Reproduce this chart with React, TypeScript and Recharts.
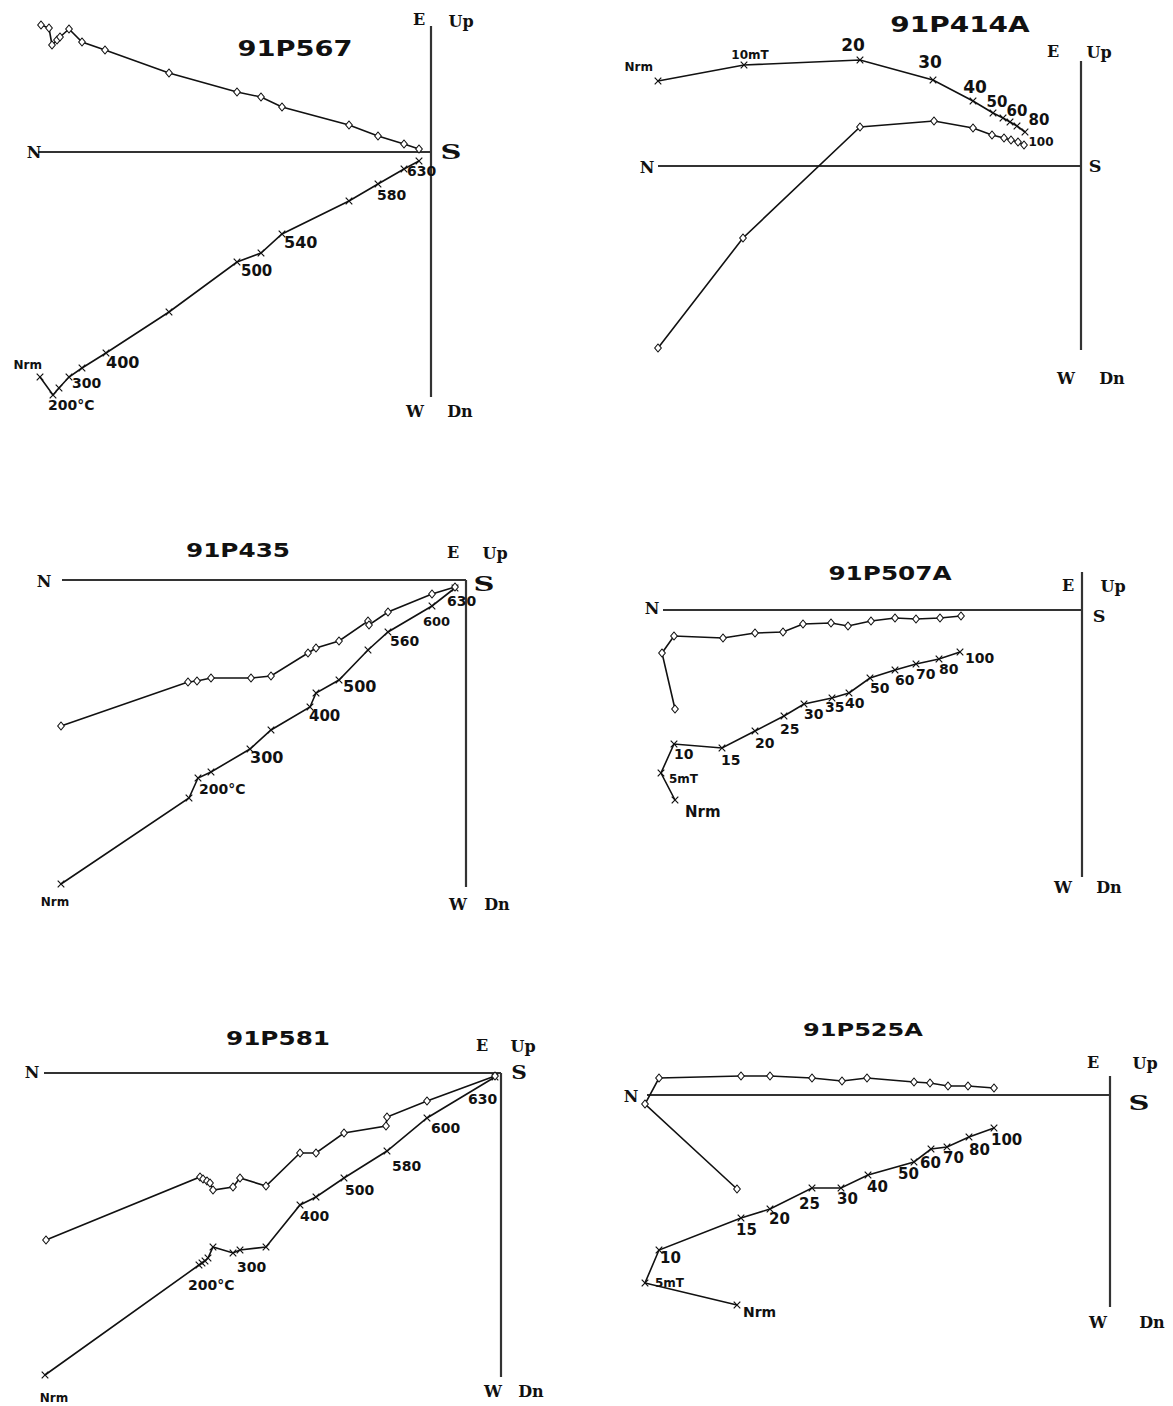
import React from 'react';
import { ScatterChart, Scatter, XAxis, YAxis, ReferenceLine } from 'recharts';

// Orthogonal (Zijderveld) projections, values in plot units from the axis crossing.
// horiz* = horizontal projection (N vs E, diamonds), vert* = vertical projection (N vs Up, crosses)

// 91P567 – thermal
const p567HorizN = [-390, -382, -379, -374, -371, -362, -349, -326, -262, -194, -170, -149, -82, -53, -27, -12];
const p567HorizE = [127, 124, 107, 112, 115, 123, 110, 102, 79, 60, 55, 45, 27, 16, 8, 3];
const p567VertN = [-391, -378, -372, -362, -349, -325, -262, -194, -170, -149, -82, -53, -27, -12];
const p567VertUp = [-225, -243, -236, -225, -216, -201, -160, -110, -101, -82, -49, -32, -17, -9];
const p567Steps = ['Nrm', '200°C', '', '300', '', '400', '', '500', '', '540', '', '580', '', '630'];

// 91P414A – AF
const p414HorizN = [-423, -338, -221, -147, -108, -89, -77, -70, -63, -57];
const p414HorizE = [-182, -72, 39, 45, 38, 31, 28, 26, 24, 21];
const p414VertN = [-423, -337, -221, -148, -108, -88, -78, -71, -64, -56];
const p414VertUp = [85, 101, 106, 86, 65, 53, 48, 44, 40, 34];
const p414Steps = ['Nrm', '10mT', '20', '30', '40', '50', '60', '', '80', '100'];

// 91P435 – thermal
const p435HorizN = [-405, -278, -269, -255, -215, -195, -158, -150, -127, -98, -97, -78, -34, -11];
const p435HorizE = [-146, -102, -101, -98, -98, -96, -73, -68, -61, -41, -45, -32, -14, -7];
const p435VertN = [-405, -277, -268, -255, -216, -195, -156, -150, -127, -98, -78, -34, -11];
const p435VertUp = [-304, -218, -198, -192, -169, -150, -127, -113, -100, -70, -52, -26, -8];
const p435Steps = ['Nrm', '', '200°C', '', '300', '', '400', '', '500', '', '560', '600', '630'];

// 91P507A – AF
const p507HorizN = [-407, -420, -408, -359, -327, -299, -279, -251, -234, -211, -187, -166, -142, -121];
const p507HorizE = [-99, -43, -26, -28, -23, -22, -14, -13, -16, -11, -8, -9, -8, -6];
const p507VertN = [-407, -421, -408, -360, -327, -298, -278, -250, -233, -212, -187, -166, -143, -122];
const p507VertUp = [-190, -163, -134, -138, -121, -106, -94, -88, -83, -68, -60, -54, -49, -42];
const p507Steps = ['Nrm', '5mT', '10', '15', '20', '25', '30', '35', '40', '50', '60', '70', '80', '100'];

// 91P581 – thermal
const p581HorizN = [-455, -301, -298, -294, -291, -288, -268, -261, -235, -201, -185, -157, -115, -114, -74, -6];
const p581HorizE = [-167, -104, -106, -108, -110, -117, -114, -105, -113, -80, -80, -60, -53, -44, -28, -3];
const p581VertN = [-456, -302, -299, -296, -293, -288, -268, -261, -235, -201, -185, -157, -114, -74, -6];
const p581VertUp = [-302, -192, -190, -188, -185, -174, -180, -177, -174, -132, -124, -105, -78, -45, -4];
const p581Steps = ['Nrm', '', '200°C', '', '', '', '300', '', '', '400', '', '500', '580', '600', '630'];

// 91P525A – AF
const p525HorizN = [-373, -465, -451, -369, -340, -298, -268, -243, -196, -180, -162, -142, -116];
const p525HorizE = [-94, -9, 17, 19, 19, 17, 14, 17, 13, 12, 9, 9, 7];
const p525VertN = [-373, -465, -451, -369, -340, -298, -269, -242, -196, -179, -163, -141, -116];
const p525VertUp = [-210, -188, -155, -123, -114, -93, -93, -80, -67, -54, -52, -42, -33];
const p525Steps = ['Nrm', '5mT', '10', '15', '20', '25', '30', '40', '50', '60', '70', '80', '100'];

const INK = '#111';

type Spot = [number, number];
type Nudge = { dx?: number; dy?: number; anchor?: 'start' | 'middle' | 'end'; size?: number };

type PanelDef = {
  title: string;
  titleAt: Spot;
  titleSize: number;
  box: { left: number; top: number; width: number; height: number };
  origin: Spot;
  nsFrom: number;
  upTo: number;
  dnTo: number;
  horizN: number[];
  horizE: number[];
  vertN: number[];
  vertUp: number[];
  steps: string[];
  labelBase: Nudge;
  labelFix: Record<string, Nudge>;
  compass: { N: Spot; S: Spot; E: Spot; Up: Spot; W: Spot; Dn: Spot };
  sSize: number;
  sStretch: number;
};

const panels: PanelDef[] = [
  {
    title: '91P567', titleAt: [295, 49], titleSize: 21,
    box: { left: 0, top: 0, width: 480, height: 430 }, origin: [431, 152],
    nsFrom: -393, upTo: 126, dnTo: -245,
    horizN: p567HorizN, horizE: p567HorizE, vertN: p567VertN, vertUp: p567VertUp, steps: p567Steps,
    labelBase: { dx: 2, dy: 14, anchor: 'start', size: 14 },
    labelFix: {
      Nrm: { dx: 2, dy: -8, anchor: 'end', size: 12 },
      '200°C': { dx: -5, dy: 15 },
      '300': { dx: 3, dy: 11 },
      '400': { dx: 0, dy: 15, size: 16 },
      '500': { dx: 4, dy: 14, size: 15 },
      '540': { dx: 2, dy: 14, size: 16 },
      '580': { dx: -1, dy: 16 },
      '630': { dx: -12, dy: 15 },
    },
    compass: { N: [34, 153], S: [451, 152], E: [419, 20], Up: [461, 22], W: [415, 412], Dn: [460, 412] },
    sSize: 20, sStretch: 1.45,
  },
  {
    title: '91P414A', titleAt: [960, 25], titleSize: 21.5,
    box: { left: 600, top: 0, width: 573, height: 400 }, origin: [1081, 166],
    nsFrom: -423, upTo: 105, dnTo: -184,
    horizN: p414HorizN, horizE: p414HorizE, vertN: p414VertN, vertUp: p414VertUp, steps: p414Steps,
    labelBase: { dx: 0, dy: -9, anchor: 'middle', size: 16 },
    labelFix: {
      Nrm: { dx: -5, dy: -10, anchor: 'end', size: 12 },
      '10mT': { dx: 6, dy: -6, size: 12 },
      '20': { dx: -7, dy: -9, size: 17 },
      '30': { dx: -3, dy: -12, size: 17 },
      '40': { dx: 2, dy: -8, size: 17 },
      '50': { dx: 4, dy: -6, size: 15 },
      '60': { dx: 14, dy: -2, size: 15 },
      '80': { dx: 22, dy: -1, size: 15 },
      '100': { dx: 16, dy: 14, size: 12 },
    },
    compass: { N: [647, 168], S: [1095, 167], E: [1053, 52], Up: [1099, 53], W: [1066, 379], Dn: [1112, 379] },
    sSize: 16, sStretch: 1.1,
  },
  {
    title: '91P435', titleAt: [238, 550], titleSize: 19,
    box: { left: 0, top: 520, width: 530, height: 400 }, origin: [466, 580],
    nsFrom: -404, upTo: 0, dnTo: -307,
    horizN: p435HorizN, horizE: p435HorizE, vertN: p435VertN, vertUp: p435VertUp, steps: p435Steps,
    labelBase: { dx: 2, dy: 14, anchor: 'start', size: 15 },
    labelFix: {
      Nrm: { dx: -6, dy: 22, anchor: 'middle', size: 12 },
      '200°C': { dx: 1, dy: 16, size: 14 },
      '300': { dx: 0, dy: 14, size: 16 },
      '400': { dx: -1, dy: 14 },
      '500': { dx: 4, dy: 12, size: 16 },
      '560': { dx: 2, dy: 14, size: 14 },
      '600': { dx: -9, dy: 20, size: 13 },
      '630': { dx: -8, dy: 18, size: 14 },
    },
    compass: { N: [44, 582], S: [484, 584], E: [453, 553], Up: [495, 554], W: [458, 905], Dn: [497, 905] },
    sSize: 20, sStretch: 1.45,
  },
  {
    title: '91P507A', titleAt: [890, 573], titleSize: 19,
    box: { left: 610, top: 540, width: 563, height: 370 }, origin: [1082, 610],
    nsFrom: -419, upTo: 38, dnTo: -267,
    horizN: p507HorizN, horizE: p507HorizE, vertN: p507VertN, vertUp: p507VertUp, steps: p507Steps,
    labelBase: { dx: 0, dy: 15, anchor: 'start', size: 14 },
    labelFix: {
      Nrm: { dx: 10, dy: 17, size: 15 },
      '5mT': { dx: 8, dy: 10, size: 12 },
      '15': { dx: -1, dy: 17 },
      '20': { dx: 0, dy: 17 },
      '25': { dx: -4, dy: 18 },
      '35': { dx: -7, dy: 14 },
      '40': { dx: -4, dy: 15 },
      '100': { dx: 5, dy: 11 },
    },
    compass: { N: [652, 609], S: [1099, 617], E: [1068, 586], Up: [1113, 587], W: [1063, 888], Dn: [1109, 888] },
    sSize: 16, sStretch: 1.1,
  },
  {
    title: '91P581', titleAt: [278, 1038], titleSize: 19,
    box: { left: 0, top: 1010, width: 560, height: 396 }, origin: [501, 1073],
    nsFrom: -457, upTo: 0, dnTo: -304,
    horizN: p581HorizN, horizE: p581HorizE, vertN: p581VertN, vertUp: p581VertUp, steps: p581Steps,
    labelBase: { dx: 2, dy: 16, anchor: 'start', size: 14 },
    labelFix: {
      Nrm: { dx: 9, dy: 27, anchor: 'middle', size: 12 },
      '200°C': { dx: -14, dy: 27 },
      '300': { dx: 4, dy: 19 },
      '400': { dx: 0, dy: 16 },
      '500': { dx: 1, dy: 17 },
      '580': { dx: 5, dy: 20 },
      '600': { dx: 4, dy: 15 },
      '630': { dx: -27, dy: 27 },
    },
    compass: { N: [32, 1073], S: [519, 1073], E: [482, 1046], Up: [523, 1047], W: [493, 1392], Dn: [531, 1392] },
    sSize: 18, sStretch: 1.2,
  },
  {
    title: '91P525A', titleAt: [863, 1030], titleSize: 18.5,
    box: { left: 600, top: 1010, width: 573, height: 330 }, origin: [1110, 1095],
    nsFrom: -463, upTo: 19, dnTo: -212,
    horizN: p525HorizN, horizE: p525HorizE, vertN: p525VertN, vertUp: p525VertUp, steps: p525Steps,
    labelBase: { dx: -3, dy: 17, anchor: 'start', size: 15 },
    labelFix: {
      Nrm: { dx: 6, dy: 12, size: 14 },
      '5mT': { dx: 10, dy: 4, size: 12 },
      '10': { dx: 1, dy: 13 },
      '15': { dx: -5, dy: 17 },
      '20': { dx: -1, dy: 15 },
      '25': { dx: -13, dy: 21 },
      '30': { dx: -4, dy: 16 },
      '40': { dx: -1, dy: 17 },
      '50': { dx: -16, dy: 17 },
      '60': { dx: -11, dy: 19 },
      '70': { dx: -4, dy: 16 },
      '80': { dx: 0, dy: 18 },
    },
    compass: { N: [631, 1097], S: [1139, 1103], E: [1093, 1063], Up: [1145, 1064], W: [1098, 1323], Dn: [1152, 1323] },
    sSize: 20, sStretch: 1.45,
  },
];

const Diamond = (props: any) => {
  const { cx, cy } = props;
  if (cx == null || cy == null) return <g />;
  return (
    <path
      d={`M${cx},${cy - 4}L${cx + 3.3},${cy}L${cx},${cy + 4}L${cx - 3.3},${cy}Z`}
      fill="#fff"
      stroke={INK}
      strokeWidth={1.1}
    />
  );
};

const crossWithLabel = (def: PanelDef) => (props: any) => {
  const { cx, cy, payload } = props;
  if (cx == null || cy == null) return <g />;
  const text: string = payload?.step || '';
  const n = { dx: 2, dy: 14, anchor: 'start', size: 14, ...def.labelBase, ...(text ? def.labelFix[text] : {}) };
  return (
    <g>
      <path
        d={`M${cx - 3.3},${cy - 3.3}L${cx + 3.3},${cy + 3.3}M${cx - 3.3},${cy + 3.3}L${cx + 3.3},${cy - 3.3}`}
        stroke={INK}
        strokeWidth={1.2}
        fill="none"
      />
      {text ? (
        <text
          x={cx + (n.dx as number)}
          y={cy + (n.dy as number)}
          textAnchor={n.anchor as any}
          fontSize={n.size}
          fontWeight={700}
          fontFamily="DejaVu Sans, sans-serif"
          fill={INK}
        >
          {text}
        </text>
      ) : null}
    </g>
  );
};

const Mark = ({ at, text, size, stretch = 1, font }: { at: Spot; text: string; size: number; stretch?: number; font: string }) => (
  <div
    style={{
      position: 'absolute',
      left: at[0],
      top: at[1],
      transform: `translate(-50%, -50%) scaleX(${stretch})`,
      fontFamily: font,
      fontWeight: 700,
      fontSize: size,
      lineHeight: 1,
      whiteSpace: 'nowrap',
      color: INK,
    }}
  >
    {text}
  </div>
);

const SERIF = '"DejaVu Serif", serif';
const SANS = '"DejaVu Sans", sans-serif';

const Panel = ({ def }: { def: PanelDef }) => {
  const { left, top, width, height } = def.box;
  const [ox, oy] = def.origin;
  const horiz = def.horizN.map((n, i) => ({ n, v: def.horizE[i] }));
  const vert = def.vertN.map((n, i) => ({ n, v: def.vertUp[i], step: def.steps[i] }));
  return (
    <>
      <div style={{ position: 'absolute', left, top, width, height }}>
        <ScatterChart width={width} height={height} margin={{ top: 0, right: 0, bottom: 0, left: 0 }}>
          <XAxis type="number" dataKey="n" domain={[left - ox, left + width - ox]} hide allowDataOverflow />
          <YAxis type="number" dataKey="v" domain={[oy - top - height, oy - top]} hide allowDataOverflow />
          <ReferenceLine segment={[{ x: def.nsFrom, y: 0 }, { x: 0, y: 0 }]} stroke="#333" strokeWidth={2.2} />
          <ReferenceLine segment={[{ x: 0, y: def.upTo }, { x: 0, y: def.dnTo }]} stroke="#333" strokeWidth={2.2} />
          <Scatter
            data={vert}
            line={{ stroke: INK, strokeWidth: 1.6 }}
            shape={crossWithLabel(def)}
            isAnimationActive={false}
          />
          <Scatter
            data={horiz}
            line={{ stroke: INK, strokeWidth: 1.6 }}
            shape={Diamond}
            isAnimationActive={false}
          />
        </ScatterChart>
      </div>
      <Mark at={def.titleAt} text={def.title} size={def.titleSize} stretch={1.3} font={SANS} />
      <Mark at={def.compass.N} text="N" size={16} font={SERIF} />
      <Mark at={def.compass.S} text="S" size={def.sSize} stretch={def.sStretch} font={SERIF} />
      <Mark at={def.compass.E} text="E" size={16} font={SERIF} />
      <Mark at={def.compass.Up} text="Up" size={16} font={SERIF} />
      <Mark at={def.compass.W} text="W" size={16} font={SERIF} />
      <Mark at={def.compass.Dn} text="Dn" size={16} font={SERIF} />
    </>
  );
};

export default function App() {
  return (
    <div style={{ position: 'absolute', left: 0, top: 0, width: 1173, height: 1406, background: '#fff', overflow: 'hidden' }}>
      {panels.map((p) => (
        <Panel key={p.title} def={p} />
      ))}
    </div>
  );
}
